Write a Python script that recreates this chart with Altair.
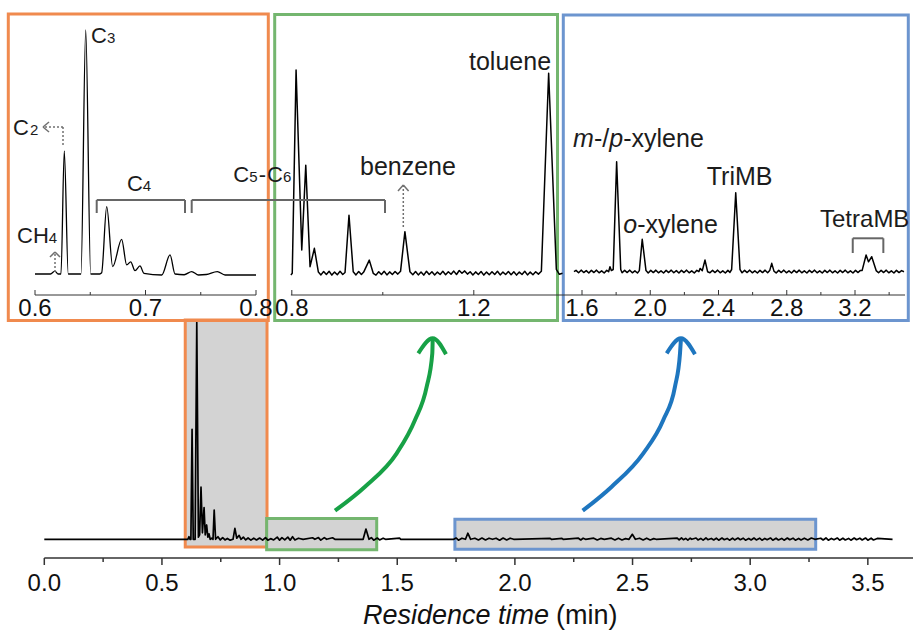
import altair as alt
import pandas as pd

FONT = "Liberation Sans"
INK = "#111111"
GRAY = "#666666"
C_ORANGE = "#F08A4E"
C_GREEN = "#74B66F"
C_BLUE = "#6C95CF"
C_ARROW_G = "#17A146"
C_ARROW_B = "#1E76BF"

# ---------------- data ----------------
# main chromatogram: (residence time / min, signal relative to the C3 peak)
MAIN_TRACE = [
    (0.000, 0.0), (0.600, 0.0), (0.610, 0.0), (0.615, 0.012), (0.619, 0.0),
    (0.623, 0.0), (0.628, 0.507), (0.633, 0.0), (0.641, 0.0), (0.648, 1.0),
    (0.655, 0.01), (0.660, 0.02), (0.666, 0.24), (0.672, 0.03), (0.679, 0.146),
    (0.684, 0.02), (0.690, 0.066), (0.695, 0.01), (0.700, 0.025), (0.705, 0.0),
    (0.712, 0.005), (0.717, 0.0), (0.722, 0.135), (0.728, 0.0), (0.738, 0.012),
    (0.748, -0.003), (0.758, 0.008), (0.768, -0.003), (0.778, 0.004), (0.790, -0.004),
    (0.802, 0.0), (0.810, 0.05), (0.818, 0.005), (0.828, 0.018), (0.836, 0.0),
    (0.846, 0.01), (0.856, -0.003), (0.866, 0.006), (0.878, -0.004), (0.890, 0.005),
    (0.902, -0.003), (0.915, 0.006), (0.928, -0.004), (0.940, 0.008), (0.950, -0.004),
    (0.962, 0.003), (0.975, -0.003), (0.990, 0.01), (1.000, -0.004), (1.010, 0.008),
    (1.022, -0.003), (1.035, 0.01), (1.045, -0.004), (1.055, 0.012), (1.065, -0.003),
    (1.080, 0.005), (1.100, 0.0), (1.140, 0.007), (1.150, 0.0), (1.165, 0.008),
    (1.175, -0.004), (1.190, 0.008), (1.200, 0.0), (1.225, 0.007), (1.235, 0.0),
    (1.355, 0.0), (1.367, 0.047), (1.380, 0.0), (1.390, 0.008), (1.400, -0.004),
    (1.415, 0.006), (1.425, -0.003), (1.440, 0.005), (1.450, 0.0), (1.510, 0.005),
    (1.515, 0.0), (1.740, 0.0), (1.750, 0.006), (1.760, -0.004), (1.775, 0.005),
    (1.790, 0.0), (1.800, 0.028), (1.812, 0.0), (1.830, 0.005), (1.845, -0.003),
    (1.860, 0.006), (1.875, -0.003), (1.890, 0.005), (1.905, 0.0), (1.920, 0.005),
    (1.935, -0.004), (1.950, 0.006), (1.965, -0.003), (1.980, 0.005), (1.995, 0.0),
    (2.150, 0.004), (2.155, 0.0), (2.200, 0.004), (2.205, 0.0), (2.270, 0.005),
    (2.280, -0.003), (2.290, 0.005), (2.300, 0.0), (2.335, 0.005), (2.350, -0.003),
    (2.365, 0.004), (2.380, 0.0), (2.410, 0.005), (2.425, -0.003), (2.440, 0.005),
    (2.455, -0.003), (2.470, 0.003), (2.485, 0.0), (2.499, 0.023), (2.512, 0.0),
    (2.530, 0.005), (2.545, -0.003), (2.560, 0.005), (2.575, -0.003), (2.590, 0.003),
    (2.600, 0.0), (2.690, 0.005), (2.698, -0.003), (2.708, 0.006), (2.716, -0.002),
    (2.726, 0.004), (2.735, -0.004), (2.745, 0.005), (2.752, 0.0), (2.770, 0.006),
    (2.778, -0.003), (2.790, 0.004), (2.800, -0.004), (2.812, 0.006), (2.820, -0.002),
    (2.835, 0.004), (2.845, -0.003), (2.856, 0.005), (2.866, -0.004), (2.880, 0.006),
    (2.890, -0.002), (2.902, 0.004), (2.912, -0.004), (2.925, 0.005), (2.934, -0.003),
    (2.948, 0.006), (2.958, -0.002), (2.970, 0.005), (2.980, -0.004), (2.994, 0.004),
    (3.004, -0.003), (3.016, 0.006), (3.026, -0.003), (3.040, 0.005), (3.050, -0.004),
    (3.062, 0.004), (3.072, -0.002), (3.086, 0.006), (3.096, -0.004), (3.110, 0.005),
    (3.120, -0.003), (3.134, 0.004), (3.144, -0.004), (3.158, 0.006), (3.168, -0.002),
    (3.182, 0.005), (3.192, -0.004), (3.206, 0.004), (3.216, -0.003), (3.230, 0.005),
    (3.245, -0.003), (3.260, 0.006), (3.275, 0.0), (3.300, 0.005), (3.310, -0.003),
    (3.322, 0.006), (3.332, -0.004), (3.345, 0.004), (3.356, -0.002), (3.370, 0.006),
    (3.380, -0.004), (3.394, 0.005), (3.404, -0.003), (3.418, 0.004), (3.428, -0.004),
    (3.442, 0.006), (3.452, -0.002), (3.466, 0.005), (3.476, -0.003), (3.490, 0.006),
    (3.500, -0.004), (3.514, 0.005), (3.524, -0.003), (3.540, 0.004), (3.605, 0.0),
]

# light-gas inset (0.6-0.8 min), signal relative to C3
ORANGE_TRACE = [
    (0.600, 0.0), (0.614, 0.0), (0.618, 0.012), (0.621, 0.0), (0.6235, 0.0),
    (0.6265, 0.505), (0.6301, 0.0), (0.6385, 0.0), (0.6416, 0.0), (0.6459, 1.0),
    (0.6504, 0.0), (0.6585, 0.0), (0.6603, 0.005), (0.6649, 0.276), (0.6703, 0.03),
    (0.6784, 0.142), (0.683, 0.037), (0.6866, 0.05), (0.6905, 0.014), (0.695, 0.033),
    (0.6986, 0.003), (0.7147, -0.004), (0.7222, 0.078), (0.7267, 0.0), (0.735, -0.003),
    (0.7418, 0.01), (0.748, -0.004), (0.755, -0.002), (0.765, 0.01), (0.772, -0.004),
    (0.800, -0.004),
]

# benzene/toluene inset (0.8-1.4 min), signal relative to toluene
GREEN_TRACE = [
    (0.798, -0.008), (0.801, 0.0), (0.8094, 1.017), (0.8219, 0.117), (0.8307, 0.54),
    (0.8401, 0.033), (0.8496, 0.125), (0.8584, 0.006), (0.864, -0.008), (0.870, 0.009),
    (0.876, -0.006), (0.882, 0.01), (0.888, -0.009), (0.894, 0.006), (0.900, -0.007),
    (0.906, 0.01), (0.912, -0.006), (0.917, 0.004), (0.9257, 0.29), (0.935, 0.008),
    (0.941, -0.008), (0.947, 0.009), (0.953, -0.006), (0.958, 0.006), (0.9703, 0.066),
    (0.979, 0.0), (0.985, -0.009), (0.991, 0.008), (0.997, -0.006), (1.003, 0.01),
    (1.009, -0.008), (1.015, 0.007), (1.021, -0.006), (1.027, 0.009), (1.033, -0.004),
    (1.039, 0.01), (1.0486, 0.208), (1.0596, 0.008), (1.066, -0.007), (1.072, 0.009),
    (1.078, -0.008), (1.084, 0.006), (1.090, -0.009), (1.096, 0.01), (1.102, -0.006),
    (1.108, 0.008), (1.114, -0.008), (1.120, 0.006), (1.126, -0.006), (1.132, 0.01),
    (1.138, -0.007), (1.144, 0.008), (1.150, -0.005), (1.156, 0.011), (1.162, -0.006),
    (1.168, 0.014), (1.174, 0.0), (1.180, 0.012), (1.186, -0.004), (1.192, 0.008),
    (1.198, -0.008), (1.204, 0.007), (1.210, -0.006), (1.216, 0.009), (1.222, -0.009),
    (1.228, 0.006), (1.234, -0.007), (1.240, 0.008), (1.246, -0.006), (1.252, 0.01),
    (1.258, -0.008), (1.264, 0.006), (1.270, -0.006), (1.276, 0.009), (1.282, -0.007),
    (1.288, 0.008), (1.294, -0.009), (1.300, 0.006), (1.306, -0.006), (1.312, 0.01),
    (1.318, -0.008), (1.324, 0.006), (1.330, -0.007), (1.336, 0.008), (1.342, -0.004),
    (1.3485, 0.01), (1.3645, 1.0), (1.3814, 0.02), (1.388, -0.005), (1.395, 0.0),
]

# xylene / methylbenzene inset (1.5-3.5 min), signal relative to m-/p-xylene
BLUE_TRACE = [
    (1.553, 0.0), (1.565, 0.012), (1.580, -0.01), (1.595, 0.014), (1.610, -0.008),
    (1.625, 0.01), (1.640, -0.012), (1.655, 0.012), (1.670, -0.008), (1.685, 0.014),
    (1.700, -0.01), (1.715, 0.008), (1.730, -0.012), (1.745, 0.012), (1.756, 0.0),
    (1.764, 0.045), (1.772, 0.01), (1.783, 0.02), (1.803, 1.0), (1.827, 0.02),
    (1.835, -0.01), (1.850, 0.012), (1.865, -0.008), (1.880, 0.014), (1.895, -0.01),
    (1.910, 0.008), (1.925, -0.012), (1.936, 0.01), (1.953, 0.295), (1.975, 0.01),
    (1.988, -0.012), (2.003, 0.012), (2.018, -0.008), (2.033, 0.014), (2.048, -0.01),
    (2.063, 0.008), (2.078, -0.012), (2.093, 0.012), (2.108, -0.008), (2.123, 0.014),
    (2.138, -0.01), (2.153, 0.01), (2.168, -0.012), (2.183, 0.012), (2.198, -0.008),
    (2.213, 0.014), (2.228, -0.01), (2.243, 0.008), (2.258, -0.012), (2.273, 0.012),
    (2.285, 0.0), (2.292, 0.03), (2.305, 0.01), (2.321, 0.106), (2.336, 0.0),
    (2.350, -0.01), (2.365, 0.012), (2.380, -0.008), (2.395, 0.014), (2.410, -0.01),
    (2.425, 0.008), (2.440, -0.012), (2.455, 0.012), (2.467, -0.006), (2.477, 0.02),
    (2.501, 0.718), (2.526, 0.02), (2.538, -0.01), (2.553, 0.012), (2.568, -0.008),
    (2.583, 0.014), (2.598, -0.01), (2.613, 0.008), (2.628, -0.012), (2.643, 0.012),
    (2.658, -0.008), (2.673, 0.014), (2.688, -0.01), (2.700, 0.01), (2.712, 0.076),
    (2.725, 0.005), (2.738, -0.012), (2.753, 0.012), (2.768, -0.008), (2.783, 0.014),
    (2.798, -0.01), (2.813, 0.008), (2.828, -0.012), (2.843, 0.012), (2.858, -0.008),
    (2.873, 0.014), (2.888, -0.01), (2.903, 0.008), (2.918, -0.012), (2.933, 0.012),
    (2.948, -0.008), (2.963, 0.014), (2.978, -0.01), (2.993, 0.008), (3.008, -0.012),
    (3.023, 0.012), (3.038, -0.008), (3.053, 0.014), (3.068, -0.01), (3.083, 0.008),
    (3.098, -0.012), (3.113, 0.012), (3.128, -0.008), (3.143, 0.014), (3.158, -0.01),
    (3.173, 0.008), (3.188, -0.012), (3.203, 0.012), (3.218, -0.008), (3.230, 0.01),
    (3.242, 0.012), (3.265, 0.152), (3.279, 0.09), (3.298, 0.136), (3.324, 0.01),
    (3.338, -0.01), (3.353, 0.012), (3.368, -0.008), (3.383, 0.014), (3.398, -0.01),
    (3.413, 0.008), (3.428, -0.012), (3.443, 0.012), (3.458, -0.008), (3.473, 0.01),
    (3.487, 0.0),
]

# axis ticks
MAIN_TICKS = [0.0, 0.5, 1.0, 1.5, 2.0, 2.5, 3.0, 3.5]
MAIN_TICK_LABELS = ["0.0", "0.5", "1.0", "1.5", "2.0", "2.5", "3.0", "3.5"]
MAIN_MINOR = [0.25, 0.75, 1.25, 1.75, 2.25, 2.75, 3.25]
ORANGE_TICKS = [0.6, 0.7, 0.8]
ORANGE_TICK_LABELS = ["0.6", "0.7", "0.8"]
ORANGE_MINOR = [0.65, 0.75]
GREEN_TICKS = [0.8, 1.2]
GREEN_TICK_LABELS = ["0.8", "1.2"]
GREEN_MINOR = [1.0]
BLUE_TICKS = [1.6, 2.0, 2.4, 2.8, 3.2]
BLUE_TICK_LABELS = ["1.6", "2.0", "2.4", "2.8", "3.2"]
BLUE_MINOR = [1.8, 2.2, 2.6, 3.0, 3.4]

# highlighted time windows in the main trace
WINDOW_START = [0.599, 0.945, 1.745]
WINDOW_END = [0.9465, 1.4127, 3.2784]

# annotation labels: (text, time, signal, font size)
ORANGE_LABELS = [
    ("C", 0.6507, 0.9455, 22), ("3", 0.6651, 0.9455, 15),
    ("C", 0.5801, 0.5697, 22), ("2", 0.5955, 0.5697, 15),
    ("CH", 0.5837, 0.1283, 22), ("4", 0.6125, 0.1283, 15),
    ("C", 0.6833, 0.340, 22), ("4", 0.6976, 0.340, 15),
    ("C", 0.7795, 0.378, 22), ("5", 0.7939, 0.378, 15), ("-", 0.8024, 0.378, 22),
    ("C", 0.8100, 0.378, 22), ("6", 0.8244, 0.378, 15),
]
GREEN_LABELS = [("toluene", 1.1895, 1.0165, 25), ("benzene", 0.9499, 0.4915, 25)]
BLUE_LABELS_ITALIC = [("m", 1.5472, 1.136, 25), ("p", 1.7600, 1.136, 25), ("o", 1.8421, 0.349, 25)]
BLUE_LABELS = [("-/", 1.6703, 1.136, 25), ("-xylene", 1.8415, 1.136, 25),
               ("-xylene", 1.9236, 0.349, 25), ("TriMB", 2.3309, 0.788, 25),
               ("TetraMB", 2.995, 0.409, 24)]

# group brackets (x0, y0, x1, y1) in inset units
ORANGE_BRACKETS = [
    (0.65584, 0.3033, 0.73575, 0.3033), (0.65584, 0.3033, 0.65584, 0.25), (0.73575, 0.3033, 0.73575, 0.25),
    (0.74181, 0.3033, 0.91674, 0.3033), (0.74181, 0.3033, 0.74181, 0.25), (0.91674, 0.3033, 0.91674, 0.25),
]
BLUE_BRACKETS = [
    (3.1868, 0.3036, 3.3661, 0.3036), (3.1868, 0.3036, 3.1868, 0.17), (3.3661, 0.3036, 3.3661, 0.17),
]
# dotted pointer arrows
ORANGE_DOTTED = [
    (0.62534, 0.6025, 0.60724, 0.6025), (0.62534, 0.6025, 0.62534, 0.5246),
    (0.6181, 0.0082, 0.6181, 0.0902),
]
ORANGE_HEADS = [
    (0.60724, 0.6025, 0.61267, 0.623), (0.60724, 0.6025, 0.61267, 0.582),
    (0.6181, 0.0902, 0.61357, 0.0697), (0.6181, 0.0902, 0.62262, 0.0697),
]
GREEN_DOTTED = [(1.04505, 0.2315, 1.04505, 0.4415)]
GREEN_HEADS = [(1.04505, 0.4415, 1.03341, 0.4115), (1.04505, 0.4415, 1.0567, 0.4115)]

# zoom arrows in main-panel units
ARROW_G = [(1.2355, 0.1318), (1.3629, 0.2424), (1.4977, 0.3963), (1.5754, 0.5498),
           (1.6252, 0.7032), (1.6490, 0.8571), (1.6507, 0.9263)]
ARROW_G_HEAD = [(1.5895, 0.8571), (1.6507, 0.9263), (1.7072, 0.8525)]
ARROW_B = [(2.2881, 0.1318), (2.4114, 0.2424), (2.5457, 0.3963), (2.6307, 0.5498),
           (2.6804, 0.7032), (2.7017, 0.8571), (2.7059, 0.9263)]
ARROW_B_HEAD = [(2.6452, 0.8571), (2.7059, 0.9263), (2.7654, 0.8525)]

# ---------------- layout (pixels) ----------------
W, H = 913, 631


def sc(domain, rng):
    return alt.Scale(domain=domain, range=rng, nice=False, zero=False)


MAIN = (sc([0, 3.7], [44.3, 914.9]), sc([0, 1], [539.3, 322.3]))
ORANGE = (sc([0.6, 0.8], [35, 256]), sc([0, 1], [274, 30]))
GREEN = (sc([0.8, 1.2], [291.8, 473.8]), sc([0, 1], [273.3, 73.3]))
BLUE = (sc([1.6, 3.2], [582, 855]), sc([0, 1], [271.7, 161.7]))

INSET_AXIS_Y = 295
INSET_LABEL_Y = 316
MAIN_AXIS_Y = 558
MAIN_LABEL_Y = 591


def trace(points, panel, width, interp):
    xs, ys = panel
    df = pd.DataFrame({"t": [p[0] for p in points], "s": [p[1] for p in points],
                       "i": list(range(len(points)))})
    return alt.Chart(df).mark_line(color="black", strokeWidth=width, interpolate=interp,
                                   strokeJoin="round").encode(
        x=alt.X("t:Q", scale=xs, axis=None),
        y=alt.Y("s:Q", scale=ys, axis=None),
        order="i:Q")


def segments(rows, panel, color, width, dash=None):
    xs, ys = panel
    df = pd.DataFrame(rows, columns=["x0", "y0", "x1", "y1"])
    mk = dict(color=color, strokeWidth=width)
    if dash:
        mk["strokeDash"] = dash
    return alt.Chart(df).mark_rule(**mk).encode(
        x=alt.X("x0:Q", scale=xs, axis=None), y=alt.Y("y0:Q", scale=ys, axis=None),
        x2="x1:Q", y2="y1:Q")


def labels(rows, panel, italic=False):
    xs, ys = panel
    df = pd.DataFrame(rows, columns=["text", "t", "s", "fs"])
    return alt.Chart(df).mark_text(align="left", baseline="alphabetic", font=FONT,
                                   fontStyle="italic" if italic else "normal",
                                   color="#1c1c1c").encode(
        x=alt.X("t:Q", scale=xs, axis=None), y=alt.Y("s:Q", scale=ys, axis=None),
        text="text:N", size=alt.Size("fs:Q", scale=None, legend=None))


def hline(t0, t1, panel, ypix, color, width):
    xs, _ = panel
    df = pd.DataFrame({"a": [t0], "b": [t1]})
    return alt.Chart(df).mark_rule(color=color, strokeWidth=width).encode(
        x=alt.X("a:Q", scale=xs, axis=None), x2="b:Q", y=alt.value(ypix))


def ticks(values, panel, y0, y1, color, width):
    xs, _ = panel
    df = pd.DataFrame({"v": values})
    return alt.Chart(df).mark_rule(color=color, strokeWidth=width).encode(
        x=alt.X("v:Q", scale=xs, axis=None), y=alt.value(y0), y2=alt.value(y1))


def tick_labels(values, texts, panel, ypix, size):
    xs, _ = panel
    df = pd.DataFrame({"v": values, "lab": texts})
    return alt.Chart(df).mark_text(align="center", baseline="alphabetic", font=FONT,
                                   fontSize=size, color=INK).encode(
        x=alt.X("v:Q", scale=xs, axis=None), y=alt.value(ypix), text="lab:N")


def frame(x0, x1, y0, y1, color):
    return alt.Chart(pd.DataFrame({"k": [0]})).mark_rect(
        fillOpacity=0, stroke=color, strokeWidth=3).encode(
        x=alt.value(x0), x2=alt.value(x1), y=alt.value(y0), y2=alt.value(y1))


def arrow(points, panel, color):
    xs, ys = panel
    df = pd.DataFrame({"t": [p[0] for p in points], "s": [p[1] for p in points],
                       "i": list(range(len(points)))})
    return alt.Chart(df).mark_line(color=color, strokeWidth=4, interpolate="monotone",
                                   strokeJoin="miter").encode(
        x=alt.X("t:Q", scale=xs, axis=None), y=alt.Y("s:Q", scale=ys, axis=None),
        order="i:Q")


windows = pd.DataFrame({
    "a": WINDOW_START, "b": WINDOW_END,
    "top": [320.0, 518.5, 519.3], "bot": [547.0, 549.7, 549.3],
    "col": [C_ORANGE, C_GREEN, C_BLUE],
})
window_layer = alt.Chart(windows).mark_rect(fill="#D3D3D3", strokeWidth=3).encode(
    x=alt.X("a:Q", scale=MAIN[0], axis=None), x2="b:Q",
    y=alt.Y("top:Q", scale=None, axis=None), y2="bot:Q",
    stroke=alt.Stroke("col:N", scale=None, legend=None))

layers = [
    window_layer,
    trace(MAIN_TRACE, MAIN, 1.7, "linear"),
    frame(8.3, 268.3, 14, 320.5, C_ORANGE),
    frame(274.7, 557.5, 14.5, 320.5, C_GREEN),
    frame(563.3, 908.3, 15, 320.5, C_BLUE),
    trace(ORANGE_TRACE, ORANGE, 1.3, "monotone"),
    trace(GREEN_TRACE, GREEN, 1.5, "linear"),
    trace(BLUE_TRACE, BLUE, 1.5, "linear"),
    # inset axes
    hline(0.6, 0.8, ORANGE, INSET_AXIS_Y, "#333333", 1),
    ticks(ORANGE_TICKS, ORANGE, INSET_AXIS_Y, INSET_AXIS_Y - 5, "#333333", 1),
    ticks(ORANGE_MINOR, ORANGE, INSET_AXIS_Y, INSET_AXIS_Y - 3, "#333333", 1),
    tick_labels(ORANGE_TICKS, ORANGE_TICK_LABELS, ORANGE, INSET_LABEL_Y, 24),
    hline(0.798, 1.396, GREEN, INSET_AXIS_Y, "#333333", 1),
    ticks(GREEN_TICKS, GREEN, INSET_AXIS_Y, INSET_AXIS_Y - 5, "#333333", 1),
    ticks(GREEN_MINOR, GREEN, INSET_AXIS_Y, INSET_AXIS_Y - 3, "#333333", 1),
    tick_labels(GREEN_TICKS, GREEN_TICK_LABELS, GREEN, INSET_LABEL_Y, 24),
    hline(1.4886, 3.4933, BLUE, INSET_AXIS_Y, "#333333", 1),
    ticks(BLUE_TICKS, BLUE, INSET_AXIS_Y, INSET_AXIS_Y - 5, "#333333", 1),
    ticks(BLUE_MINOR, BLUE, INSET_AXIS_Y, INSET_AXIS_Y - 3, "#333333", 1),
    tick_labels(BLUE_TICKS, BLUE_TICK_LABELS, BLUE, INSET_LABEL_Y, 24),
    # main axis
    hline(0.0, 3.72, MAIN, MAIN_AXIS_Y, "#333333", 1.5),
    ticks(MAIN_TICKS, MAIN, MAIN_AXIS_Y, MAIN_AXIS_Y + 7, "#333333", 1.5),
    ticks(MAIN_MINOR, MAIN, MAIN_AXIS_Y, MAIN_AXIS_Y + 4, "#333333", 1.5),
    tick_labels(MAIN_TICKS, MAIN_TICK_LABELS, MAIN, MAIN_LABEL_Y, 24),
    alt.Chart(pd.DataFrame({"t": [1.3545], "lab": ["Residence time"]})).mark_text(
        align="left", baseline="alphabetic", font=FONT, fontSize=27, fontStyle="italic",
        color=INK).encode(x=alt.X("t:Q", scale=MAIN[0], axis=None), y=alt.value(624),
                          text="lab:N"),
    alt.Chart(pd.DataFrame({"t": [2.1747], "lab": ["(min)"]})).mark_text(
        align="left", baseline="alphabetic", font=FONT, fontSize=27,
        color=INK).encode(x=alt.X("t:Q", scale=MAIN[0], axis=None), y=alt.value(624),
                          text="lab:N"),
    # annotations
    segments(ORANGE_BRACKETS, ORANGE, GRAY, 2),
    segments(BLUE_BRACKETS, BLUE, GRAY, 2),
    segments(ORANGE_DOTTED, ORANGE, "#707070", 1.5, [2, 2]),
    segments(ORANGE_HEADS, ORANGE, "#707070", 1.5),
    segments(GREEN_DOTTED, GREEN, "#707070", 1.5, [2, 2]),
    segments(GREEN_HEADS, GREEN, "#707070", 1.5),
    labels(ORANGE_LABELS, ORANGE),
    labels(GREEN_LABELS, GREEN),
    labels(BLUE_LABELS, BLUE),
    labels(BLUE_LABELS_ITALIC, BLUE, italic=True),
    # zoom arrows
    arrow(ARROW_G, MAIN, C_ARROW_G),
    arrow(ARROW_G_HEAD, MAIN, C_ARROW_G),
    arrow(ARROW_B, MAIN, C_ARROW_B),
    arrow(ARROW_B_HEAD, MAIN, C_ARROW_B),
]

chart = alt.layer(*layers).resolve_scale(
    x="independent", y="independent", size="independent", stroke="independent"
).properties(
    width=W, height=H, padding=0, background="white",
    autosize=alt.AutoSizeParams(type="none"),
).configure_view(strokeWidth=0)

chart.save("out.html", embed_options={"renderer": "svg", "actions": False})
